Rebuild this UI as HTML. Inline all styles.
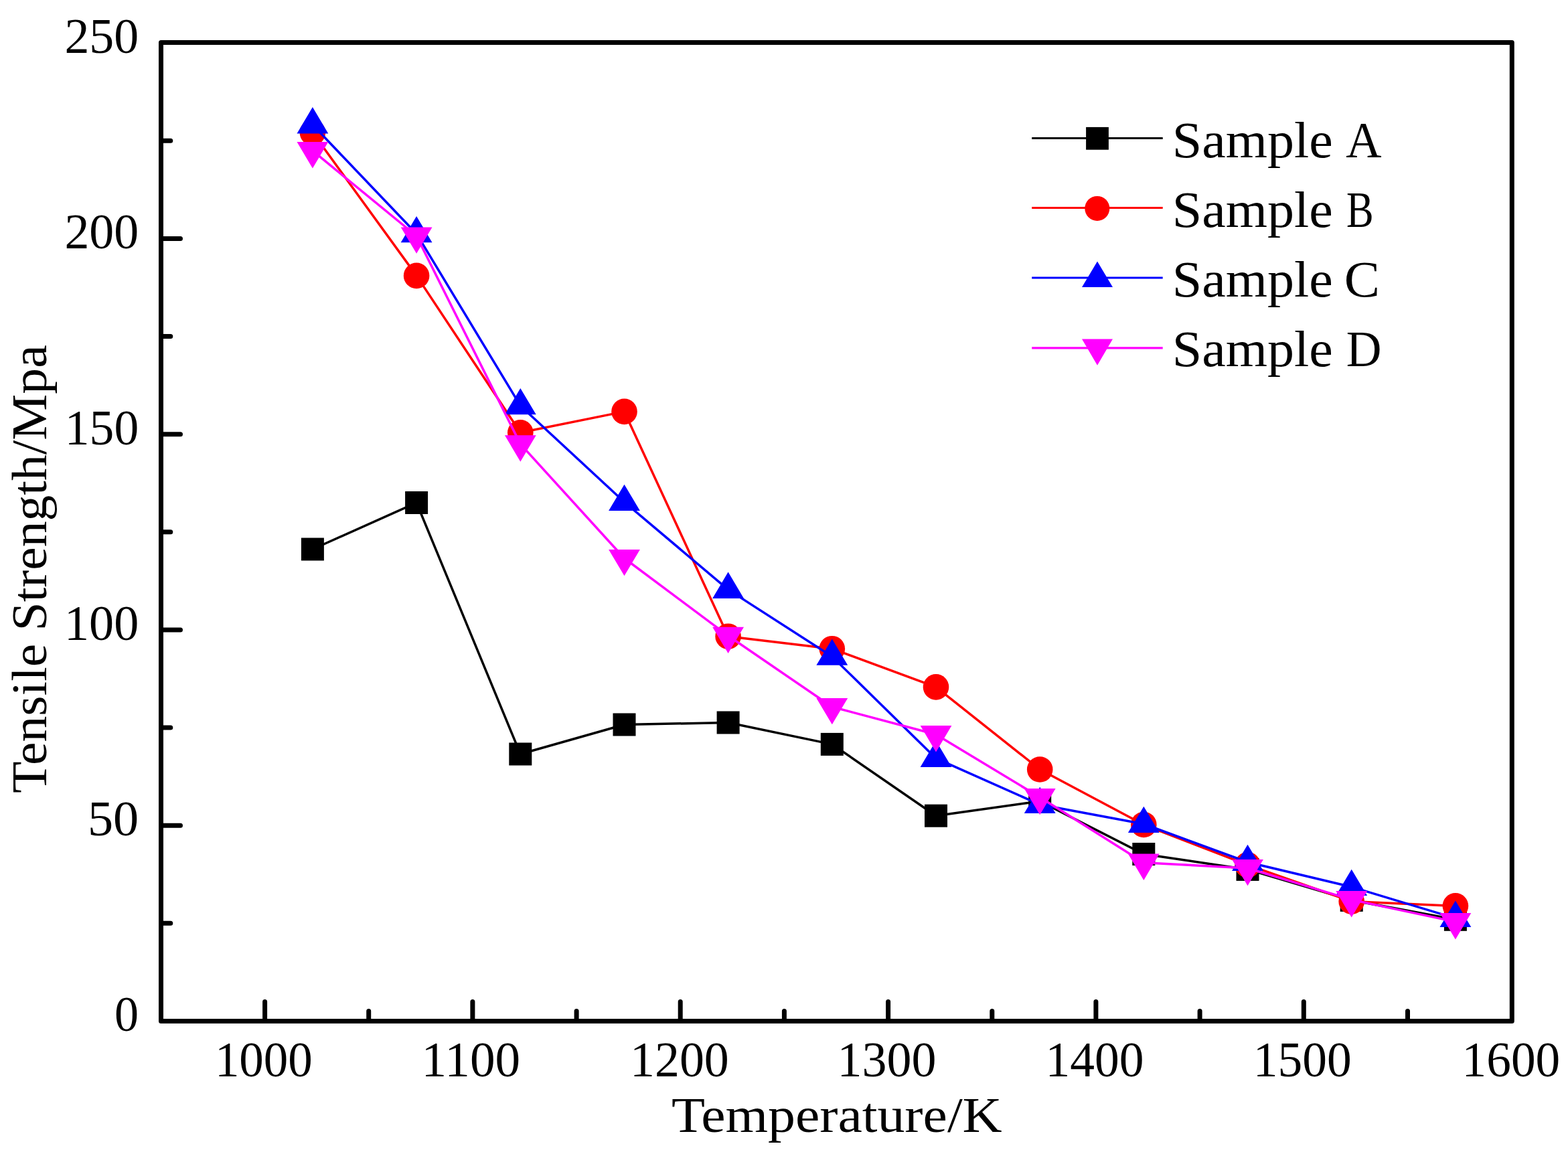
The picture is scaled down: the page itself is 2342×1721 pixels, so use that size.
<!DOCTYPE html>
<html><head><meta charset="utf-8"><title>Tensile Strength vs Temperature</title>
<style>html,body{margin:0;padding:0;background:#fff;}svg{display:block;}</style>
</head><body>
<svg width="2342" height="1721" viewBox="0 0 2342 1721">
<rect width="2342" height="1721" fill="#fff"/>
<path d="M395.6 1525.4V1496.4 M705.9 1525.4V1496.4 M1016.2 1525.4V1496.4 M1326.6 1525.4V1496.4 M1636.9 1525.4V1496.4 M1947.3 1525.4V1496.4 M550.7 1525.4V1510.4 M861.1 1525.4V1510.4 M1171.4 1525.4V1510.4 M1481.8 1525.4V1510.4 M1792.1 1525.4V1510.4 M2102.5 1525.4V1510.4 M240.5 1233.2H269.5 M240.5 940.9H269.5 M240.5 648.7H269.5 M240.5 356.4H269.5 M240.5 1379.3H254.8 M240.5 1087.0H254.8 M240.5 794.8H254.8 M240.5 502.5H254.8 M240.5 210.3H254.8" stroke="#000" stroke-width="7" stroke-linecap="round" fill="none"/>
<rect x="240.5" y="63.4" width="2017.8" height="1462.0" fill="none" stroke="#000" stroke-width="7" stroke-linejoin="round"/>
<polyline points="466.9,820.5 622.1,751.0 777.3,1126.5 932.5,1082.5 1087.6,1079.5 1242.8,1111.9 1398.0,1218.7 1553.2,1197.0 1708.3,1276.0 1863.5,1298.9 2018.7,1344.9 2173.9,1373.8" fill="none" stroke="#000000" stroke-width="3.5" stroke-linejoin="round"/>
<rect x="449.9" y="803.5" width="34.0" height="34.0" fill="#000000"/>
<rect x="605.1" y="734.0" width="34.0" height="34.0" fill="#000000"/>
<rect x="760.3" y="1109.5" width="34.0" height="34.0" fill="#000000"/>
<rect x="915.5" y="1065.5" width="34.0" height="34.0" fill="#000000"/>
<rect x="1070.6" y="1062.5" width="34.0" height="34.0" fill="#000000"/>
<rect x="1225.8" y="1094.9" width="34.0" height="34.0" fill="#000000"/>
<rect x="1381.0" y="1201.7" width="34.0" height="34.0" fill="#000000"/>
<rect x="1536.2" y="1180.0" width="34.0" height="34.0" fill="#000000"/>
<rect x="1691.3" y="1259.0" width="34.0" height="34.0" fill="#000000"/>
<rect x="1846.5" y="1281.9" width="34.0" height="34.0" fill="#000000"/>
<rect x="2001.7" y="1327.9" width="34.0" height="34.0" fill="#000000"/>
<rect x="2156.9" y="1356.8" width="34.0" height="34.0" fill="#000000"/>
<polyline points="466.9,198.0 622.1,411.9 777.3,646.3 932.5,614.9 1087.6,950.7 1242.8,969.2 1398.0,1026.4 1553.2,1149.5 1708.3,1232.0 1863.5,1292.2 2018.7,1346.7 2173.9,1353.4" fill="none" stroke="#FF0000" stroke-width="3.5" stroke-linejoin="round"/>
<circle cx="466.9" cy="198.0" r="19.30" fill="#FF0000"/>
<circle cx="622.1" cy="411.9" r="19.30" fill="#FF0000"/>
<circle cx="777.3" cy="646.3" r="19.30" fill="#FF0000"/>
<circle cx="932.5" cy="614.9" r="19.30" fill="#FF0000"/>
<circle cx="1087.6" cy="950.7" r="19.30" fill="#FF0000"/>
<circle cx="1242.8" cy="969.2" r="19.30" fill="#FF0000"/>
<circle cx="1398.0" cy="1026.4" r="19.30" fill="#FF0000"/>
<circle cx="1553.2" cy="1149.5" r="19.30" fill="#FF0000"/>
<circle cx="1708.3" cy="1232.0" r="19.30" fill="#FF0000"/>
<circle cx="1863.5" cy="1292.2" r="19.30" fill="#FF0000"/>
<circle cx="2018.7" cy="1346.7" r="19.30" fill="#FF0000"/>
<circle cx="2173.9" cy="1353.4" r="19.30" fill="#FF0000"/>
<polyline points="466.9,186.4 622.1,349.2 777.3,606.2 932.5,750.0 1087.6,880.9 1242.8,980.7 1398.0,1132.9 1553.2,1202.0 1708.3,1231.0 1863.5,1288.0 2018.7,1325.0 2173.9,1371.9" fill="none" stroke="#0000FF" stroke-width="3.5" stroke-linejoin="round"/>
<polygon points="466.9,160.1 490.3,199.5 443.5,199.5" fill="#0000FF"/>
<polygon points="622.1,322.9 645.5,362.3 598.7,362.3" fill="#0000FF"/>
<polygon points="777.3,579.9 800.7,619.3 753.9,619.3" fill="#0000FF"/>
<polygon points="932.5,723.7 955.9,763.1 909.1,763.1" fill="#0000FF"/>
<polygon points="1087.6,854.6 1111.0,894.0 1064.2,894.0" fill="#0000FF"/>
<polygon points="1242.8,954.4 1266.2,993.8 1219.4,993.8" fill="#0000FF"/>
<polygon points="1398.0,1106.6 1421.4,1146.0 1374.6,1146.0" fill="#0000FF"/>
<polygon points="1553.2,1175.7 1576.6,1215.1 1529.8,1215.1" fill="#0000FF"/>
<polygon points="1708.3,1204.7 1731.7,1244.1 1684.9,1244.1" fill="#0000FF"/>
<polygon points="1863.5,1261.7 1886.9,1301.1 1840.1,1301.1" fill="#0000FF"/>
<polygon points="2018.7,1298.7 2042.1,1338.1 1995.3,1338.1" fill="#0000FF"/>
<polygon points="2173.9,1345.6 2197.3,1385.0 2150.5,1385.0" fill="#0000FF"/>
<polyline points="466.9,225.2 622.1,352.5 777.3,663.4 932.5,834.0 1087.6,949.8 1242.8,1056.0 1398.0,1097.2 1553.2,1191.0 1708.3,1288.7 1863.5,1297.0 2018.7,1344.1 2173.9,1377.1" fill="none" stroke="#FF00FF" stroke-width="3.5" stroke-linejoin="round"/>
<polygon points="466.9,251.5 490.3,212.1 443.5,212.1" fill="#FF00FF"/>
<polygon points="622.1,378.8 645.5,339.4 598.7,339.4" fill="#FF00FF"/>
<polygon points="777.3,689.7 800.7,650.3 753.9,650.3" fill="#FF00FF"/>
<polygon points="932.5,860.3 955.9,820.9 909.1,820.9" fill="#FF00FF"/>
<polygon points="1087.6,976.1 1111.0,936.7 1064.2,936.7" fill="#FF00FF"/>
<polygon points="1242.8,1082.3 1266.2,1042.9 1219.4,1042.9" fill="#FF00FF"/>
<polygon points="1398.0,1123.5 1421.4,1084.1 1374.6,1084.1" fill="#FF00FF"/>
<polygon points="1553.2,1217.3 1576.6,1177.9 1529.8,1177.9" fill="#FF00FF"/>
<polygon points="1708.3,1315.0 1731.7,1275.6 1684.9,1275.6" fill="#FF00FF"/>
<polygon points="1863.5,1323.3 1886.9,1283.9 1840.1,1283.9" fill="#FF00FF"/>
<polygon points="2018.7,1370.4 2042.1,1331.0 1995.3,1331.0" fill="#FF00FF"/>
<polygon points="2173.9,1403.4 2197.3,1364.0 2150.5,1364.0" fill="#FF00FF"/>
<line x1="1541.2" y1="206.5" x2="1736.7" y2="206.5" stroke="#000000" stroke-width="3.2"/>
<line x1="1541.2" y1="310.5" x2="1736.7" y2="310.5" stroke="#FF0000" stroke-width="3.2"/>
<line x1="1541.2" y1="415.0" x2="1736.7" y2="415.0" stroke="#0000FF" stroke-width="3.2"/>
<line x1="1541.2" y1="519.8" x2="1736.7" y2="519.8" stroke="#FF00FF" stroke-width="3.2"/>
<rect x="1622.1" y="189.9" width="33.8" height="33.8" fill="#000000"/>
<circle cx="1638.8" cy="311.4" r="18.50" fill="#FF0000"/>
<polygon points="1639,390.4 1662,429.1 1616,429.1" fill="#0000FF"/>
<polygon points="1639,545.7 1662,506.5 1616,506.5" fill="#FF00FF"/>
<g font-family="'Liberation Serif', serif" fill="#000">
<text x="320.88" y="1608.3" font-size="74" textLength="145.99" lengthAdjust="spacingAndGlyphs">1000</text>
<text x="629.50" y="1608.3" font-size="74" textLength="147.63" lengthAdjust="spacingAndGlyphs">1100</text>
<text x="941.01" y="1608.3" font-size="74" textLength="147.79" lengthAdjust="spacingAndGlyphs">1200</text>
<text x="1250.61" y="1608.3" font-size="74" textLength="147.79" lengthAdjust="spacingAndGlyphs">1300</text>
<text x="1561.49" y="1608.3" font-size="74" textLength="146.94" lengthAdjust="spacingAndGlyphs">1400</text>
<text x="1871.84" y="1608.3" font-size="74" textLength="146.94" lengthAdjust="spacingAndGlyphs">1500</text>
<text x="2183.55" y="1608.3" font-size="74" textLength="146.73" lengthAdjust="spacingAndGlyphs">1600</text>
<text x="171.05" y="1540.2" font-size="74" textLength="36.10" lengthAdjust="spacingAndGlyphs">0</text>
<text x="130.98" y="1248.0" font-size="74" textLength="76.29" lengthAdjust="spacingAndGlyphs">50</text>
<text x="95.99" y="955.7" font-size="74" textLength="111.22" lengthAdjust="spacingAndGlyphs">100</text>
<text x="96.83" y="663.5" font-size="74" textLength="110.35" lengthAdjust="spacingAndGlyphs">150</text>
<text x="96.41" y="371.2" font-size="74" textLength="110.79" lengthAdjust="spacingAndGlyphs">200</text>
<text x="96.41" y="79.0" font-size="74" textLength="110.79" lengthAdjust="spacingAndGlyphs">250</text>
<text y="234.6" font-size="75.5"><tspan x="1750.70" textLength="239.96" lengthAdjust="spacingAndGlyphs">Sample</tspan> <tspan x="2010.20" textLength="53.31" lengthAdjust="spacingAndGlyphs">A</tspan></text>
<text y="338.6" font-size="75.5"><tspan x="1750.70" textLength="239.96" lengthAdjust="spacingAndGlyphs">Sample</tspan> <tspan x="2011.09" textLength="40.62" lengthAdjust="spacingAndGlyphs">B</tspan></text>
<text y="443.4" font-size="75.5"><tspan x="1750.70" textLength="239.96" lengthAdjust="spacingAndGlyphs">Sample</tspan> <tspan x="2007.83" textLength="53.22" lengthAdjust="spacingAndGlyphs">C</tspan></text>
<text y="547.2" font-size="75.5"><tspan x="1750.70" textLength="239.96" lengthAdjust="spacingAndGlyphs">Sample</tspan> <tspan x="2010.76" textLength="52.78" lengthAdjust="spacingAndGlyphs">D</tspan></text>
<text x="1002.91" y="1691.0" font-size="75" textLength="493.77" lengthAdjust="spacingAndGlyphs">Temperature/K</text>
<text transform="translate(69,0) rotate(-90)" x="-1184.96" y="0" font-size="73.5" textLength="669.61" lengthAdjust="spacingAndGlyphs">Tensile Strength/Mpa</text>
</g>
</svg>
</body></html>
